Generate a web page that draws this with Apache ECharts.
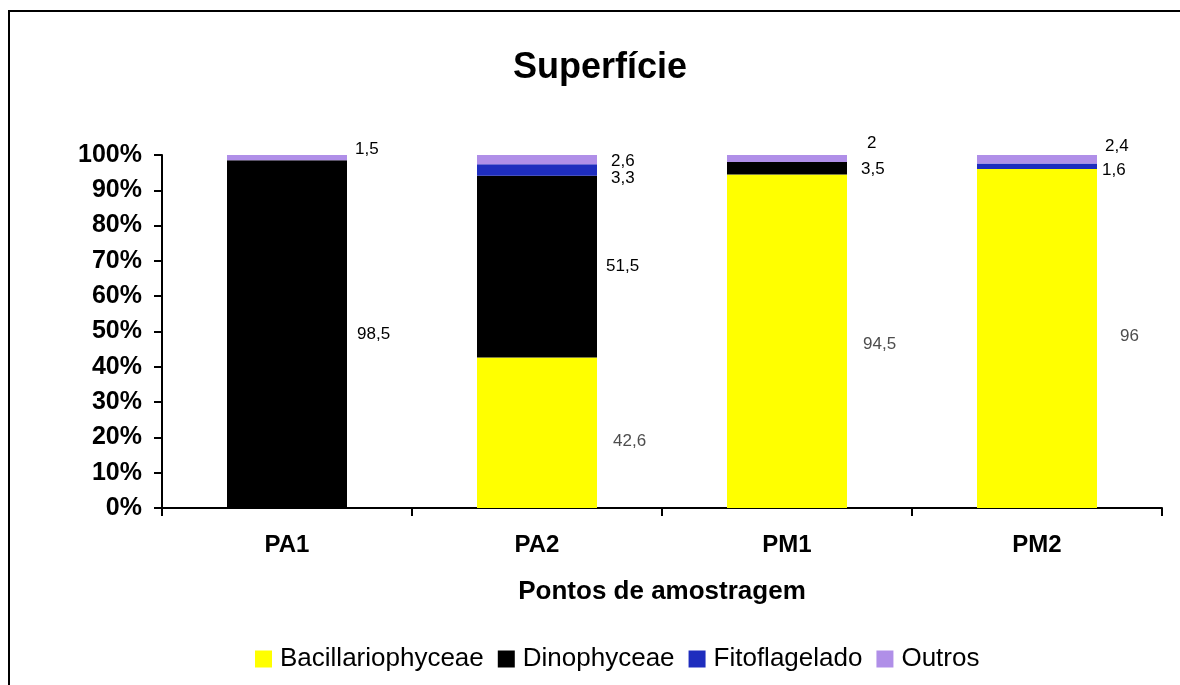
<!DOCTYPE html>
<html>
<head>
<meta charset="utf-8">
<script src="https://cdn.jsdelivr.net/npm/echarts@6/dist/echarts.min.js"></script>
<style>html,body{margin:0;padding:0;background:#fff}#c{width:1180px;height:685px}</style>
</head>
<body>
<div id="c"></div>
<script>
// ---- data ----
const categories = ['PA1', 'PA2', 'PM1', 'PM2'];
const seriesNames = ['Bacillariophyceae', 'Dinophyceae', 'Fitoflagelado', 'Outros'];
const bacillariophyceae = [0, 42.6, 94.5, 96];
const dinophyceae = [98.5, 51.5, 3.5, 0];
const fitoflagelado = [0, 3.3, 0, 1.6];
const outros = [1.5, 2.6, 2, 2.4];
const yTicks = [0, 10, 20, 30, 40, 50, 60, 70, 80, 90, 100];

// ---- styling (label offsets relative to bar right edge / segment centre) ----
const colors = ['#FFFF00', '#000000', '#1E2DBE', '#B08FE8'];
const labelColors = ['#4d4d4d', '#000000', '#000000', '#000000'];
const labelOffsets = [
  [[0,0],[16,9],[16,3],[23,-2]],
  [[10,0],[9,0],[14,1],[0,0]],
  [[0,0],[14,8],[0,0],[5,4]],
  [[8,-8],[14,2],[20,-15],[8,-13]]
];
const FONT = "'Liberation Sans', Arial, Helvetica, sans-serif";

const allValues = [bacillariophyceae, dinophyceae, fitoflagelado, outros];

const chart = echarts.init(document.getElementById('c'));
const series = allValues.map((vals, si) => ({
  name: seriesNames[si],
  type: 'bar',
  stack: 'total',
  barWidth: 120,
  itemStyle: { color: colors[si] },
  data: vals.map((v, ci) => ({
    value: v,
    label: {
      show: v > 0,
      position: 'right',
      distance: 0,
      offset: labelOffsets[si][ci],
      formatter: (p) => String(p.value).replace('.', ','),
      color: labelColors[si],
      fontSize: 17,
      fontFamily: FONT
    }
  }))
}));

chart.setOption({
  backgroundColor: '#fff',
  animation: false,
  graphic: [
    { type: 'rect', shape: { x: 9, y: 11, width: 1200, height: 700 },
      style: { fill: 'none', stroke: '#000', lineWidth: 2 }, z: 100 },
    { type: 'text', x: 600, y: 68,
      style: { text: 'Superfície', textAlign: 'center', textVerticalAlign: 'middle',
               fontSize: 36, fontWeight: 'bold', fontFamily: FONT, fill: '#000' } }
  ],
  legend: {
    data: seriesNames,
    left: 250,
    top: 641,
    itemWidth: 17,
    itemHeight: 17,
    itemGap: 14,
    icon: 'rect',
    textStyle: { fontSize: 26, fontFamily: FONT, color: '#000', padding: [0, 0, 0, 3] }
  },
  grid: { left: 162, right: 18, top: 155, bottom: 177, containLabel: false },
  xAxis: {
    type: 'category',
    data: categories,
    axisLine: { lineStyle: { color: '#000', width: 2 } },
    axisTick: { show: true, length: 8, alignWithLabel: false, lineStyle: { color: '#000', width: 2 } },
    axisLabel: { fontSize: 24, fontWeight: 'bold', color: '#000', fontFamily: FONT, margin: 25 },
    name: 'Pontos de amostragem',
    nameLocation: 'middle',
    nameGap: 71,
    nameTextStyle: { fontSize: 26, fontWeight: 'bold', color: '#000', fontFamily: FONT }
  },
  yAxis: {
    type: 'value',
    min: yTicks[0],
    max: yTicks[yTicks.length - 1],
    interval: yTicks[1] - yTicks[0],
    splitLine: { show: false },
    axisLine: { show: true, lineStyle: { color: '#000', width: 2 } },
    axisTick: { show: true, length: 8, lineStyle: { color: '#000', width: 2 } },
    axisLabel: { formatter: '{value}%', fontSize: 25, fontWeight: 'bold', color: '#000', fontFamily: FONT, margin: 20 }
  },
  series: series
});
</script>
</body>
</html>
